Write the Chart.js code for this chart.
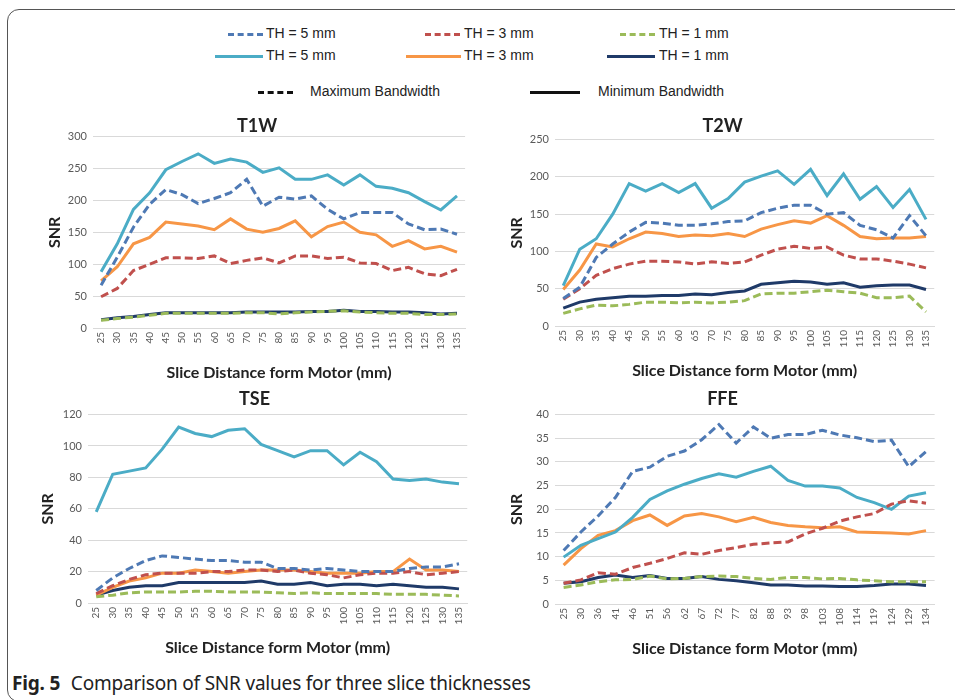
<!DOCTYPE html>
<html>
<head>
<meta charset="utf-8">
<script src="https://cdn.jsdelivr.net/npm/chart.js@4.4.1/dist/chart.umd.min.js"></script>
<style>
  body { margin: 0; width: 955px; height: 700px; background: #fff; overflow: hidden; position: relative; font-family: "Liberation Sans", Arial, sans-serif; }
  .frame { position: absolute; left: 7px; top: 9px; width: 1000px; height: 691px; border: 1.5px solid #555; border-radius: 12px; }
  .chart { position: absolute; }
  .leg { position: absolute; font-size: 14px; color: #222; white-space: nowrap; }
  .sw { position: absolute; height: 0; }
  .caption { position: absolute; left: 12px; top: 670px; font-family: "Noto Sans", sans-serif; font-size: 19px; letter-spacing: -0.2px; color: #222; white-space: nowrap; }
  .caption b { font-weight: 700; margin-right: 6px; }
</style>
</head>
<body>
<div class="frame"></div>

<!-- legend -->
<div class="sw" style="left:228px; top:33px; width:35px; border-top:3px dashed #4E79B4;"></div>
<div class="leg" style="left:266px; top:25px;">TH = 5 mm</div>
<div class="sw" style="left:425px; top:33px; width:35px; border-top:3px dashed #C0504D;"></div>
<div class="leg" style="left:464px; top:25px;">TH = 3 mm</div>
<div class="sw" style="left:620px; top:33px; width:35px; border-top:3px dashed #9BBB59;"></div>
<div class="leg" style="left:659px; top:25px;">TH = 1 mm</div>

<div class="sw" style="left:215px; top:55px; width:48px; border-top:3px solid #4BACC6;"></div>
<div class="leg" style="left:266px; top:47px;">TH = 5 mm</div>
<div class="sw" style="left:406px; top:55px; width:55px; border-top:3px solid #F79646;"></div>
<div class="leg" style="left:464px; top:47px;">TH = 3 mm</div>
<div class="sw" style="left:607px; top:55px; width:48px; border-top:3px solid #1F3A68;"></div>
<div class="leg" style="left:659px; top:47px;">TH = 1 mm</div>

<div class="sw" style="left:258px; top:91px; width:35px; border-top:3px dashed #111;"></div>
<div class="leg" style="left:310px; top:83px;">Maximum Bandwidth</div>
<div class="sw" style="left:530px; top:91px; width:50px; border-top:3px solid #111;"></div>
<div class="leg" style="left:598px; top:83px;">Minimum Bandwidth</div>

<canvas id="c-t1w" class="chart" style="left:41px; top:111px;"></canvas>
<canvas id="c-t2w" class="chart" style="left:503px; top:111px;"></canvas>
<canvas id="c-tse" class="chart" style="left:34px; top:384px;"></canvas>
<canvas id="c-ffe" class="chart" style="left:503px; top:384px;"></canvas>

<div class="caption"><b>Fig. 5</b> Comparison of SNR values for three slice thicknesses</div>

<script>
'use strict';

// x categories (slice distance from motor, mm)
const distances = ['25', '30', '35', '40', '45', '50', '55', '60', '65', '70', '75', '80', '85', '90', '95', '100', '105', '110', '115', '120', '125', '130', '135'];
const distancesFFE = ['25', '30', '36', '41', '46', '51', '56', '62', '67', '72', '77', '82', '88', '93', '98', '103', '108', '114', '119', '124', '129', '134'];

// T1W
const t1wMax5 = [67, 111, 158, 194, 217, 209, 195, 203, 212, 233, 191, 205, 202, 207, 186, 171, 181, 181, 181, 163, 154, 155, 147];
const t1wMax3 = [49, 62, 90, 100, 110, 110, 109, 113, 101, 106, 110, 102, 113, 113, 109, 111, 102, 101, 90, 95, 85, 82, 92];
const t1wMax1 = [12, 15, 17, 20, 23, 23, 23, 23, 23, 24, 24, 22, 24, 25, 26, 27, 25, 24, 23, 23, 21, 21, 22];
const t1wMin5 = [88, 132, 186, 212, 248, 261, 273, 258, 265, 260, 244, 251, 233, 233, 240, 224, 240, 222, 219, 212, 198, 185, 207];
const t1wMin3 = [74, 96, 132, 142, 166, 163, 160, 154, 171, 155, 150, 156, 168, 143, 159, 166, 150, 146, 128, 137, 124, 128, 119];
const t1wMin1 = [13, 16, 18, 21, 24, 24, 24, 24, 24, 25, 25, 25, 25, 26, 26, 28, 26, 26, 25, 25, 24, 22, 23];

// T2W
const t2wMax5 = [37, 52, 92, 110, 126, 139, 138, 135, 135, 137, 140, 141, 152, 158, 162, 162, 150, 152, 135, 129, 118, 148, 121];
const t2wMax3 = [36, 50, 68, 77, 83, 87, 87, 86, 83, 86, 84, 86, 95, 103, 107, 104, 106, 95, 90, 90, 87, 83, 78];
const t2wMax1 = [17, 23, 28, 27, 29, 32, 32, 31, 32, 31, 32, 34, 43, 44, 44, 46, 48, 46, 44, 38, 38, 40, 19];
const t2wMin5 = [54, 103, 117, 150, 191, 181, 191, 179, 191, 158, 171, 193, 201, 208, 190, 210, 175, 204, 170, 187, 159, 183, 143];
const t2wMin3 = [49, 75, 110, 106, 117, 126, 124, 120, 122, 121, 124, 120, 130, 136, 141, 138, 148, 135, 120, 117, 118, 118, 120];
const t2wMin1 = [24, 32, 36, 38, 40, 40, 41, 41, 43, 42, 45, 47, 56, 58, 60, 59, 56, 58, 52, 54, 55, 55, 49];

// TSE
const tseMax5 = [8, 16, 22, 27, 30, 29, 28, 27, 27, 26, 26, 22, 22, 21, 22, 21, 20, 20, 20, 22, 23, 23, 25];
const tseMax3 = [6, 11, 15, 18, 19, 19, 19, 20, 20, 21, 21, 20, 21, 19, 18, 16, 18, 19, 19, 20, 18, 19, 20];
const tseMax1 = [4, 5, 6.5, 7, 7, 7, 7.5, 7.5, 7, 7, 7, 6.5, 6, 6.5, 6, 6, 6, 6, 5.5, 5.5, 5.5, 5, 4.5];
const tseMin5 = [58, 82, 84, 86, 98, 112, 108, 106, 110, 111, 101, 97, 93, 97, 97, 88, 96, 90, 79, 78, 79, 77, 76];
const tseMin3 = [5, 10, 14, 16, 19, 19, 21, 20, 19, 20, 21, 21, 21, 20, 19, 19, 19, 20, 20, 28, 21, 21, 20];
const tseMin1 = [5, 8, 10, 11, 11, 13, 13, 13, 13, 13, 14, 12, 12, 13, 11, 12, 12, 11, 12, 11, 10, 10, 9];

// FFE
const ffeMax5 = [11.3, 15.2, 18.6, 22.5, 28, 28.9, 31.2, 32.3, 34.7, 37.9, 34, 37.4, 35, 35.8, 35.8, 36.7, 35.7, 35.1, 34.3, 34.6, 29, 32.2];
const ffeMax3 = [4.4, 5.1, 6.6, 6.3, 7.7, 8.6, 9.6, 10.8, 10.5, 11.3, 11.9, 12.6, 12.9, 13.1, 14.8, 16, 17.5, 18.4, 19.1, 21.1, 21.8, 21.3];
const ffeMax1 = [3.5, 4, 4.7, 5.1, 5.2, 5.9, 5.3, 5.4, 5.8, 5.9, 5.8, 5.4, 5.2, 5.6, 5.6, 5.3, 5.4, 5.1, 4.9, 4.7, 4.7, 4.7];
const ffeMin5 = [9.9, 12.4, 13.8, 15.2, 18.3, 22.1, 23.9, 25.3, 26.5, 27.5, 26.8, 28, 29.1, 26.1, 24.9, 24.9, 24.5, 22.5, 21.4, 20, 22.8, 23.5];
const ffeMin3 = [8.2, 11.7, 14.5, 15.5, 17.6, 18.8, 16.6, 18.6, 19.1, 18.4, 17.4, 18.3, 17.2, 16.6, 16.3, 16.1, 16.3, 15.2, 15.1, 15, 14.8, 15.5];
const ffeMin1 = [4.4, 4.7, 5.6, 6.1, 5.6, 6, 5.4, 5.4, 5.8, 5.2, 4.9, 4.5, 4, 4, 3.8, 3.8, 3.7, 3.7, 3.9, 4.2, 4.2, 3.9];

const COLORS = {
    max5: '#4E79B4', max3: '#C0504D', max1: '#9BBB59',
    min5: '#4BACC6', min3: '#F79646', min1: '#1F3A68'
};

function series(label, data, color, dashed) {
    return {
        label,
        data,
        borderColor: color,
        backgroundColor: color,
        borderWidth: 3,
        borderDash: dashed ? [8, 4] : [],
        pointRadius: 0,
        tension: 0,
        fill: false
    };
}

function buildChart(id, cfg) {
    const canvas = document.getElementById(id);
    canvas.width = cfg.width;
    canvas.height = cfg.height;

    return new Chart(canvas.getContext('2d'), {
        type: 'line',
        data: {
            labels: cfg.labels,
            datasets: [
                series('TH = 5 mm (max)', cfg.max5, COLORS.max5, true),
                series('TH = 3 mm (max)', cfg.max3, COLORS.max3, true),
                series('TH = 1 mm (max)', cfg.max1, COLORS.max1, true),
                series('TH = 5 mm (min)', cfg.min5, COLORS.min5, false),
                series('TH = 3 mm (min)', cfg.min3, COLORS.min3, false),
                series('TH = 1 mm (min)', cfg.min1, COLORS.min1, false)
            ]
        },
        options: {
            responsive: false,
            animation: false,
            devicePixelRatio: 1,
            layout: { padding: 0 },
            plugins: {
                legend: { display: false },
                tooltip: { enabled: false },
                title: {
                    display: true,
                    text: cfg.title,
                    color: '#222',
                    font: { family: 'Lato', size: 18, weight: 'bold' },
                    padding: { top: 4, bottom: cfg.titleGap }
                }
            },
            scales: {
                x: {
                    offset: true,
                    grid: { display: false, drawTicks: false },
                    border: { display: true, color: '#d9d9d9', width: 1 },
                    ticks: {
                        autoSkip: false,
                        minRotation: 90,
                        maxRotation: 90,
                        padding: 4,
                        color: '#595959',
                        font: { family: 'Lato', size: 10 }
                    },
                    title: {
                        display: true,
                        text: 'Slice Distance form Motor (mm)',
                        color: '#222',
                        font: { family: 'Lato', size: 16, weight: 'bold' },
                        padding: { top: 0, bottom: 4 }
                    },
                    afterFit: (scale) => { scale.height = 58; }
                },
                y: {
                    min: 0,
                    max: cfg.yMax,
                    grid: { color: '#d9d9d9', drawTicks: false },
                    border: { display: false },
                    ticks: {
                        stepSize: cfg.yStep,
                        padding: 6,
                        color: '#595959',
                        font: { family: 'Lato', size: 11 }
                    },
                    title: {
                        display: true,
                        text: 'SNR',
                        color: '#222',
                        font: { family: 'Lato', size: 16, weight: 'bold' },
                        padding: { top: 4, bottom: 0 }
                    },
                    afterFit: (scale) => { scale.width = cfg.yWidth; }
                }
            }
        }
    });
}

buildChart('c-t1w', {
    title: 'T1W', labels: distances, width: 432, height: 275, titleGap: 0, yWidth: 52,
    yMax: 300, yStep: 50,
    max5: t1wMax5, max3: t1wMax3, max1: t1wMax1, min5: t1wMin5, min3: t1wMin3, min1: t1wMin1
});

buildChart('c-t2w', {
    title: 'T2W', labels: distances, width: 439, height: 273, titleGap: 3, yWidth: 52,
    yMax: 250, yStep: 50,
    max5: t2wMax5, max3: t2wMax3, max1: t2wMax1, min5: t2wMin5, min3: t2wMin3, min1: t2wMin1
});

buildChart('c-tse', {
    title: 'TSE', labels: distances, width: 441, height: 277, titleGap: 5, yWidth: 54,
    yMax: 120, yStep: 20,
    max5: tseMax5, max3: tseMax3, max1: tseMax1, min5: tseMin5, min3: tseMin3, min1: tseMin1
});

buildChart('c-ffe', {
    title: 'FFE', labels: distancesFFE, width: 439, height: 278, titleGap: 5, yWidth: 52,
    yMax: 40, yStep: 5,
    max5: ffeMax5, max3: ffeMax3, max1: ffeMax1, min5: ffeMin5, min3: ffeMin3, min1: ffeMin1
});
</script>
</body>
</html>
